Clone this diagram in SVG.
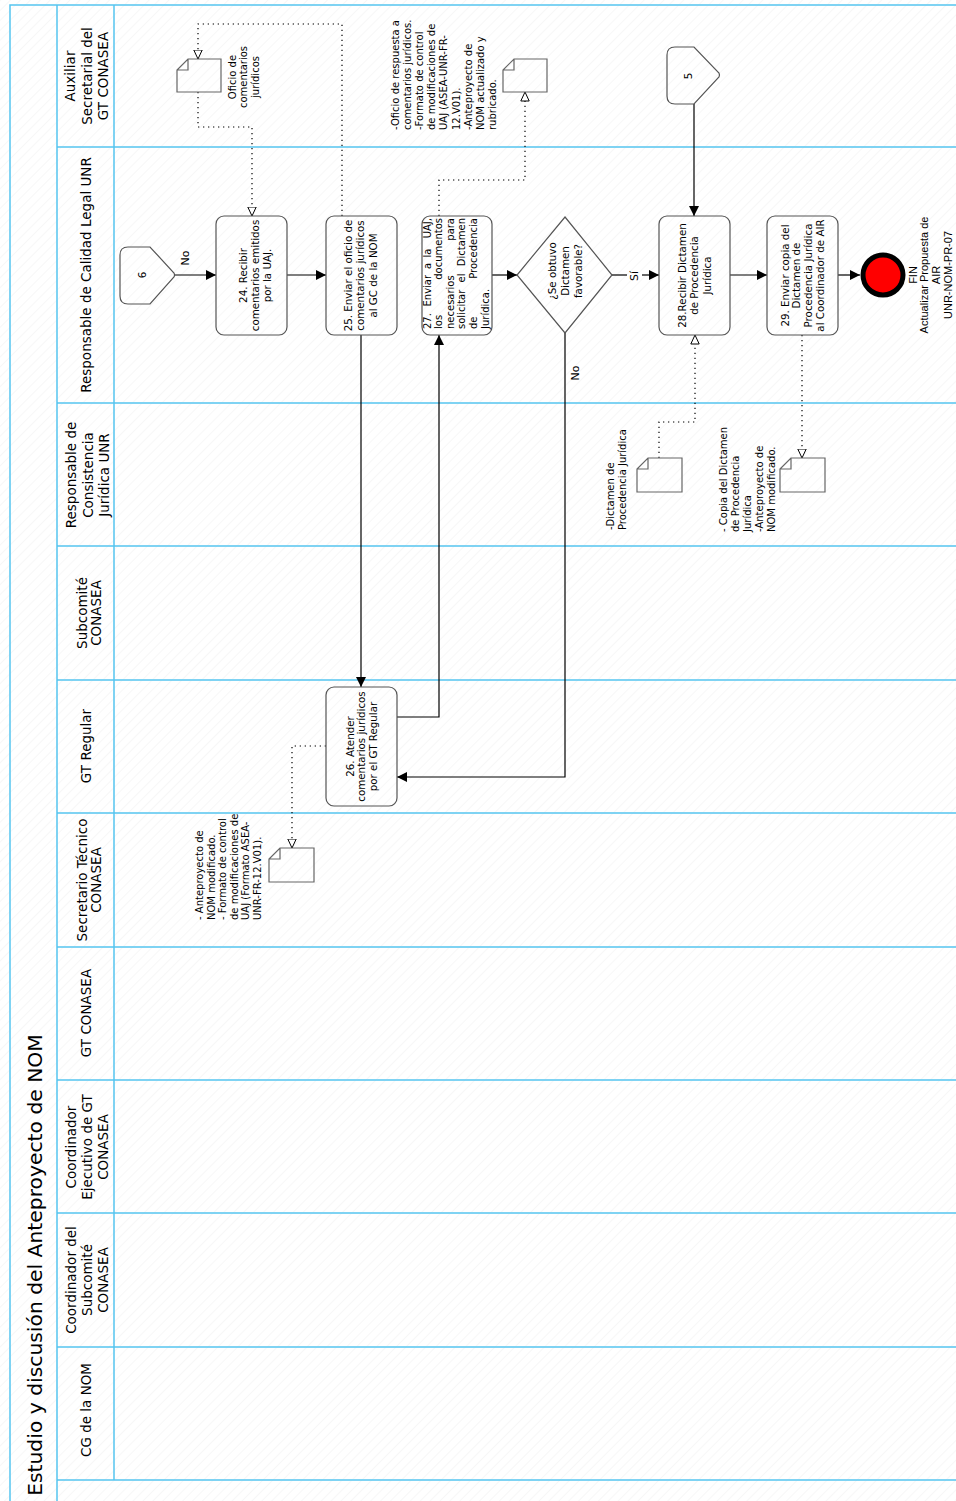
<svg xmlns="http://www.w3.org/2000/svg" width="956" height="1501" viewBox="0 0 956 1501">
<defs>
<pattern id="hatch" width="7" height="7" patternUnits="userSpaceOnUse" patternTransform="rotate(45)"><line x1="0" y1="0" x2="0" y2="7" stroke="#efefef" stroke-width="1"/></pattern>
<marker id="arr" viewBox="0 0 10 10" refX="10" refY="5" markerWidth="10" markerHeight="10" markerUnits="userSpaceOnUse" orient="auto"><path d="M0,0 L10,5 L0,10 Z" fill="#000"/></marker>
<marker id="oarr" viewBox="0 0 10 10" refX="9.5" refY="5" markerWidth="10" markerHeight="10" markerUnits="userSpaceOnUse" orient="auto"><path d="M0.5,0.8 L9.5,5 L0.5,9.2 Z" fill="#fff" stroke="#000" stroke-width="1"/></marker>
<style>
text{font-family:"DejaVu Sans",sans-serif;fill:#000}
.hdr{font-size:13.5px;text-anchor:middle}
.ttl{font-size:20.3px;text-anchor:middle}
.nt{font-size:10.3px;text-anchor:middle}
.jt{font-size:10px}
.lbl{font-size:10px}
.mid{text-anchor:middle}
.fin{font-family:"Liberation Sans",Arial,sans-serif;font-size:11px;text-anchor:middle}
.lane{stroke:#55c5f0;stroke-width:1.5;fill:none}
.box{fill:none;stroke:#555;stroke-width:1.2}
.doc{fill:none;stroke:#666;stroke-width:1.2}
.flow{fill:none;stroke:#000;stroke-width:1.2}
.dot{fill:none;stroke:#000;stroke-width:1.2;stroke-dasharray:1.3 3.7}
</style>
</defs>
<rect x="0" y="0" width="956" height="1501" fill="#fff"/>
<rect x="0" y="0" width="956" height="1501" fill="url(#hatch)"/>

<g id="lanes">
<path class="lane" d="M10,1501 V5 H956 M57,5 V1501 M114,5 V1480 M57,1480 H956"/>
<path class="lane" d="M57,147 H956 M57,403 H956 M57,546 H956 M57,680 H956 M57,813 H956 M57,947 H956 M57,1080 H956 M57,1213 H956 M57,1347 H956"/>
<text class="ttl" transform="translate(42,1265) rotate(-90)">Estudio y discusión del Anteproyecto de NOM</text>
<text class="hdr" transform="translate(75,76) rotate(-90)"><tspan x="0">Auxiliar</tspan><tspan x="0" dy="16.5">Secretarial del</tspan><tspan x="0" dy="16.5">GT CONASEA</tspan></text>
<text class="hdr" transform="translate(91,275) rotate(-90)">Responsable de Calidad Legal UNR</text>
<text class="hdr" transform="translate(76,475) rotate(-90)"><tspan x="0">Responsable de</tspan><tspan x="0" dy="16.5">Consistencia</tspan><tspan x="0" dy="16.5">Jurídica UNR</tspan></text>
<text class="hdr" transform="translate(86.5,613) rotate(-90)"><tspan x="0">Subcomité</tspan><tspan x="0" dy="14.5">CONASEA</tspan></text>
<text class="hdr" transform="translate(91,746) rotate(-90)">GT Regular</text>
<text class="hdr" transform="translate(86.5,880) rotate(-90)"><tspan x="0">Secretario Técnico</tspan><tspan x="0" dy="14.5">CONASEA</tspan></text>
<text class="hdr" transform="translate(91,1013) rotate(-90)">GT CONASEA</text>
<text class="hdr" transform="translate(76,1147) rotate(-90)"><tspan x="0">Coordinador</tspan><tspan x="0" dy="16">Ejecutivo de GT</tspan><tspan x="0" dy="16">CONASEA</tspan></text>
<text class="hdr" transform="translate(76,1280) rotate(-90)"><tspan x="0">Coordinador del</tspan><tspan x="0" dy="16">Subcomité</tspan><tspan x="0" dy="16">CONASEA</tspan></text>
<text class="hdr" transform="translate(91,1410) rotate(-90)">CG de la NOM</text>
</g>

<g id="connectors">
<path class="flow" d="M175,275 H216" marker-end="url(#arr)"/>
<text class="lbl mid" transform="translate(189,258) rotate(-90)" style="font-size:11px">No</text>
<path class="flow" d="M287,275 H326" marker-end="url(#arr)"/>
<path class="flow" d="M361,335 V687" marker-end="url(#arr)"/>
<path class="flow" d="M397,717 H439 V335" marker-end="url(#arr)"/>
<path class="flow" d="M492,275 H517" marker-end="url(#arr)"/>
<path class="flow" d="M565,333 V777 H397" marker-end="url(#arr)"/>
<text class="lbl mid" transform="translate(579,373) rotate(-90)" style="font-size:11px">No</text>
<path class="flow" d="M612,275 H627"/>
<path class="flow" d="M642,275 H659" marker-end="url(#arr)"/>
<text class="lbl mid" transform="translate(638,276) rotate(-90)" style="font-size:11px">Sí</text>
<path class="flow" d="M694,104 V216" marker-end="url(#arr)"/>
<path class="flow" d="M730,275 H767" marker-end="url(#arr)"/>
<path class="flow" d="M838,275 H860" marker-end="url(#arr)"/>
<path class="dot" d="M342,216 V24 H198 V59" marker-end="url(#oarr)"/>
<path class="dot" d="M198,92 V127 H252 V216" marker-end="url(#oarr)"/>
<path class="dot" d="M439,216 V180 H525 V92" marker-end="url(#oarr)"/>
<path class="dot" d="M659,458 V422 H695 V335" marker-end="url(#oarr)"/>
<path class="dot" d="M802,335 V458" marker-end="url(#oarr)"/>
<path class="dot" d="M326,746 H292 V848" marker-end="url(#oarr)"/>
</g>

<g id="conn6">
<path class="box" d="M128,247 H150 L174,273 Q175,275 174,277 L150,304 H128 Q120,304 120,296 V255 Q120,247 128,247 Z"/>
<text class="nt" transform="translate(146,275) rotate(-90)">6</text>
</g>
<g id="conn5">
<path class="box" d="M675,47 H694 L719,73 Q720,75 719,77 L694,104 H675 Q667,104 667,96 V55 Q667,47 675,47 Z"/>
<text class="nt" transform="translate(691.5,76) rotate(-90)">5</text>
</g>

<g id="n24">
<rect class="box" x="216" y="216" width="71" height="119" rx="8"/>
<text class="nt" transform="translate(246.5,275.5) rotate(-90)"><tspan x="0">24. Recibir</tspan><tspan x="0" dy="12">comentarios emitidos</tspan><tspan x="0" dy="12">por la UAJ.</tspan></text>
</g>
<g id="n25">
<rect class="box" x="326" y="216" width="71" height="119" rx="8"/>
<text class="nt" transform="translate(351.5,275.5) rotate(-90)"><tspan x="0">25. Enviar el oficio de</tspan><tspan x="0" dy="12.7">comentarios jurídicos</tspan><tspan x="0" dy="12.7">al GC de la NOM</tspan></text>
</g>
<g id="n26">
<rect class="box" x="326" y="687" width="71" height="119" rx="8"/>
<text class="nt" transform="translate(353.5,746.5) rotate(-90)"><tspan x="0">26. Atender</tspan><tspan x="0" dy="11.7">comentarios jurídicos</tspan><tspan x="0" dy="11.7">por el GT Regular</tspan></text>
</g>
<g id="n27">
<rect class="box" x="422" y="216" width="70" height="119" rx="8"/>
<g transform="translate(422,329) rotate(-90)">
<text class="jt" y="8.5"><tspan x="0">27.</tspan><tspan x="22.5">Enviar</tspan><tspan x="60">a</tspan><tspan x="71.5">la</tspan></text>
<text class="jt" y="8.5" x="111" text-anchor="end">UAJ,</text>
<text class="jt" y="20" x="0">los</text>
<text class="jt" y="20" x="111" text-anchor="end">documentos</text>
<text class="jt" y="31.5" x="0">necesarios</text>
<text class="jt" y="31.5" x="111" text-anchor="end">para</text>
<text class="jt" y="43" x="0"><tspan x="0">solicitar</tspan><tspan x="46.5">el</tspan></text>
<text class="jt" y="43" x="111" text-anchor="end">Dictamen</text>
<text class="jt" y="55" x="0">de</text>
<text class="jt" y="55" x="111" text-anchor="end">Procedencia</text>
<text class="jt" y="66.5" x="0">Jurídica.</text>
</g>
</g>
<g id="dec">
<path class="box" d="M565,217 L612,275 L565,333 L517,275 Z"/>
<text class="nt" transform="translate(555.5,271) rotate(-90)"><tspan x="0">¿Se obtuvo</tspan><tspan x="0" dy="13">Dictamen</tspan><tspan x="0" dy="13">favorable?</tspan></text>
</g>
<g id="n28">
<rect class="box" x="659" y="216" width="71" height="119" rx="8"/>
<text class="nt" transform="translate(685.5,275.5) rotate(-90)"><tspan x="0">28.Recibir Dictamen</tspan><tspan x="0" dy="12.5">de Procedencia</tspan><tspan x="0" dy="12.5">Jurídica</tspan></text>
</g>
<g id="n29">
<rect class="box" x="767" y="216" width="71" height="119" rx="8"/>
<text class="nt" transform="translate(788.5,275.5) rotate(-90)"><tspan x="0">29. Enviar copia del</tspan><tspan x="0" dy="11.7">Dictamen de</tspan><tspan x="0" dy="11.7">Procedencia Jurídica</tspan><tspan x="0" dy="11.7">al Coordinador de AIR</tspan></text>
</g>
<g id="end">
<circle cx="883" cy="275" r="20" fill="#ff0000" stroke="#000" stroke-width="5"/>
<text class="fin" transform="translate(916.5,275) rotate(-90)"><tspan x="0">FIN</tspan><tspan x="0" dy="11.7">Actualizar Propuesta de</tspan><tspan x="0" dy="11.7">AIR</tspan><tspan x="0" dy="11.7">UNR-NOM-PR-07</tspan></text>
</g>

<g id="docA">
<path class="doc" d="M188,59 H221 V92 H177 V70 Z M177,70 H188 V59"/>
<text class="lbl mid" transform="translate(235.5,77) rotate(-90)"><tspan x="0">Oficio de</tspan><tspan x="0" dy="11.5">comentarios</tspan><tspan x="0" dy="11.5">jurídicos</tspan></text>
</g>
<g id="docB">
<path class="doc" d="M514,59 H547 V92 H503 V70 Z M503,70 H514 V59"/>
<text class="lbl" transform="translate(398.5,130) rotate(-90)"><tspan x="0">-Oficio de respuesta a</tspan><tspan x="0" dy="12.2">comentarios jurídicos.</tspan><tspan x="0" dy="12.2">-Formato de control</tspan><tspan x="0" dy="12.2">de modificaciones de</tspan><tspan x="0" dy="12.2">UAJ (ASEA-UNR-FR-</tspan><tspan x="0" dy="12.2">12.V01).</tspan><tspan x="0" dy="12.2">-Anteproyecto de</tspan><tspan x="0" dy="12.2">NOM actualizado y</tspan><tspan x="0" dy="12.2">rubricado.</tspan></text>
</g>
<g id="docC">
<path class="doc" d="M648,458 H682 V492 H637 V469 Z M637,469 H648 V458"/>
<text class="lbl" transform="translate(613.5,530) rotate(-90)"><tspan x="0">-Dictamen de</tspan><tspan x="0" dy="12">Procedencia Jurídica</tspan></text>
</g>
<g id="docD">
<path class="doc" d="M791,458 H825 V492 H780 V469 Z M780,469 H791 V458"/>
<text class="lbl" transform="translate(726.5,532) rotate(-90)"><tspan x="0">- Copia del Dictamen</tspan><tspan x="0" dy="12.2">de Procedencia</tspan><tspan x="0" dy="12.2">Jurídica</tspan><tspan x="0" dy="12.2">-Anteproyecto de</tspan><tspan x="0" dy="12.2">NOM modificado.</tspan></text>
</g>
<g id="docE">
<path class="doc" d="M280,848 H314 V882 H269 V859 Z M269,859 H280 V848"/>
<text class="lbl" transform="translate(203,920) rotate(-90)"><tspan x="0">- Anteproyecto de</tspan><tspan x="0" dy="11.6">NOM modificado.</tspan><tspan x="0" dy="11.6">- Formato de control</tspan><tspan x="0" dy="11.6">de modificaciones de</tspan><tspan x="0" dy="11.6">UAJ (Formato ASEA-</tspan><tspan x="0" dy="11.6">UNR-FR-12.V01).</tspan></text>
</g>
</svg>
